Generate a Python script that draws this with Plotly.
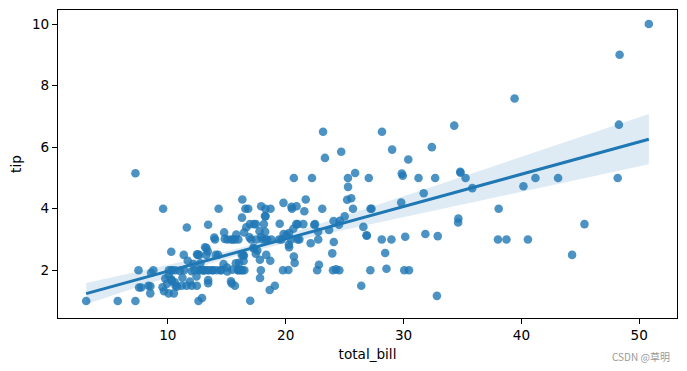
import numpy as np
import plotly.graph_objects as go

total_bill = [16.99, 10.34, 21.01, 23.68, 24.59, 25.29, 8.77, 26.88, 15.04, 14.78, 10.27, 35.26, 15.42, 18.43, 14.83, 21.58, 10.33, 16.29, 16.97, 20.65,
              17.92, 20.29, 15.77, 39.42, 19.82, 17.81, 13.37, 12.69, 21.7, 19.65, 9.55, 18.35, 15.06, 20.69, 17.78, 24.06, 16.31, 16.93, 18.69, 31.27,
              16.04, 17.46, 13.94, 9.68, 30.4, 18.29, 22.23, 32.4, 28.55, 18.04, 12.54, 10.29, 34.81, 9.94, 25.56, 19.49, 38.01, 26.41, 11.24, 48.27,
              20.29, 13.81, 11.02, 18.29, 17.59, 20.08, 16.45, 3.07, 20.23, 15.01, 12.02, 17.07, 26.86, 25.28, 14.73, 10.51, 17.92, 27.2, 22.76, 17.29,
              19.44, 16.66, 10.07, 32.68, 15.98, 34.83, 13.03, 18.28, 24.71, 21.16, 28.97, 22.49, 5.75, 16.32, 22.75, 40.17, 27.28, 12.03, 21.01, 12.46,
              11.35, 15.38, 44.3, 22.42, 20.92, 15.36, 20.49, 25.21, 18.24, 14.31, 14.0, 7.25, 38.07, 23.95, 25.71, 17.31, 29.93, 10.65, 12.43, 24.08,
              11.69, 13.42, 14.26, 15.95, 12.48, 29.8, 8.52, 14.52, 11.38, 22.82, 19.08, 20.27, 11.17, 12.26, 18.26, 8.51, 10.33, 14.15, 16.0, 13.16,
              17.47, 34.3, 41.19, 27.05, 16.43, 8.35, 18.64, 11.87, 9.78, 7.51, 14.07, 13.13, 17.26, 24.55, 19.77, 29.85, 48.17, 25.0, 13.39, 16.49,
              21.5, 12.66, 16.21, 13.81, 17.51, 24.52, 20.76, 31.71, 10.59, 10.63, 50.81, 15.81, 7.25, 31.85, 16.82, 32.9, 17.89, 14.48, 9.6, 34.63,
              34.65, 23.33, 45.35, 23.17, 40.55, 20.69, 20.9, 30.46, 18.15, 23.1, 15.69, 19.81, 28.44, 15.48, 16.58, 7.56, 10.34, 43.11, 13.0, 13.51,
              18.71, 12.74, 13.0, 16.4, 20.53, 16.47, 26.59, 38.73, 24.27, 12.76, 30.06, 25.89, 48.33, 13.27, 28.17, 12.9, 28.15, 11.59, 7.74, 30.14,
              12.16, 13.42, 8.58, 15.98, 13.42, 16.27, 10.09, 20.45, 13.28, 22.12, 24.01, 15.69, 11.61, 10.77, 15.53, 10.07, 12.6, 32.83, 35.83, 29.03,
              27.18, 22.67, 17.82, 18.78]
tip = [1.01, 1.66, 3.5, 3.31, 3.61, 4.71, 2.0, 3.12, 1.96, 3.23, 1.71, 5.0, 1.57, 3.0, 3.02, 3.92, 1.67, 3.71, 3.5, 3.35,
       4.08, 2.75, 2.23, 7.58, 3.18, 2.34, 2.0, 2.0, 4.3, 3.0, 1.45, 2.5, 3.0, 2.45, 3.27, 3.6, 2.0, 3.07, 2.31, 5.0,
       2.24, 2.54, 3.06, 1.32, 5.6, 3.0, 5.0, 6.0, 2.05, 3.0, 2.5, 2.6, 5.2, 1.56, 4.34, 3.51, 3.0, 1.5, 1.76, 6.73,
       3.21, 2.0, 1.98, 3.76, 2.64, 3.15, 2.47, 1.0, 2.01, 2.09, 1.97, 3.0, 3.14, 5.0, 2.2, 1.25, 3.08, 4.0, 3.0, 2.71,
       3.0, 3.4, 1.83, 5.0, 2.03, 5.17, 2.0, 4.0, 5.85, 3.0, 3.0, 3.5, 1.0, 4.3, 3.25, 4.73, 4.0, 1.5, 3.0, 1.5,
       2.5, 3.0, 2.5, 3.48, 4.08, 1.64, 4.06, 4.29, 3.76, 4.0, 3.0, 1.0, 4.0, 2.55, 4.0, 3.5, 5.07, 1.5, 1.8, 2.92,
       2.31, 1.68, 2.5, 2.0, 2.52, 4.2, 1.48, 2.0, 2.0, 2.18, 1.5, 2.83, 1.5, 2.0, 3.25, 1.25, 2.0, 2.0, 2.0, 2.75,
       3.5, 6.7, 5.0, 5.0, 2.3, 1.5, 1.36, 1.63, 1.73, 2.0, 2.5, 2.0, 2.74, 2.0, 2.0, 5.14, 5.0, 3.75, 2.61, 2.0,
       3.5, 2.5, 2.0, 2.0, 3.0, 3.48, 2.24, 4.5, 1.61, 2.0, 10.0, 3.16, 5.15, 3.18, 4.0, 3.11, 2.0, 2.0, 4.0, 3.55,
       3.68, 5.65, 3.5, 6.5, 3.0, 5.0, 3.5, 2.0, 3.5, 4.0, 1.5, 4.19, 2.56, 2.02, 4.0, 1.44, 2.0, 5.0, 2.0, 2.0,
       4.0, 2.01, 2.0, 2.5, 4.0, 3.23, 3.41, 3.0, 2.03, 2.23, 2.0, 5.16, 9.0, 2.5, 6.5, 1.1, 3.0, 1.5, 1.44, 3.09,
       2.2, 3.48, 1.92, 3.0, 1.58, 2.5, 2.0, 3.0, 2.72, 2.88, 2.0, 3.0, 3.39, 1.47, 3.0, 1.25, 1.0, 1.17, 4.67, 5.92,
       2.0, 2.0, 1.75, 3.0]

x_ticks = [10, 20, 30, 40, 50]
y_ticks = [2, 4, 6, 8, 10]

COLOR = "#1f77b4"
FONT = "DejaVu Sans"
FS = 13.6

# linear fit with a robust (sandwich) 95% band, which tracks seaborn's bootstrap band
x = np.array(total_bill)
y = np.array(tip)
n = len(x)
X = np.column_stack([np.ones(n), x])
XtX_inv = np.linalg.inv(X.T @ X)
beta = XtX_inv @ X.T @ y
resid = y - X @ beta
h = np.sum((X @ XtX_inv) * X, axis=1)
meat = X.T @ (X * (resid ** 2 / (1 - h) ** 2)[:, None])
V = XtX_inv @ meat @ XtX_inv
grid = np.linspace(x.min(), x.max(), 100)
G = np.column_stack([np.ones_like(grid), grid])
yhat = G @ beta
se = np.sqrt(np.sum((G @ V) * G, axis=1))
lo = yhat - 1.96 * se
hi = yhat + 1.96 * se

fig = go.Figure()
fig.add_trace(go.Scatter(x=x, y=y, mode="markers",
                         marker=dict(color=COLOR, size=8.6, opacity=0.8, line=dict(width=0)),
                         showlegend=False, hoverinfo="skip"))
fig.add_trace(go.Scatter(x=np.concatenate([grid, grid[::-1]]), y=np.concatenate([hi, lo[::-1]]),
                         fill="toself", fillcolor="rgba(31,119,180,0.15)", line=dict(width=0),
                         mode="lines", showlegend=False, hoverinfo="skip"))
fig.add_trace(go.Scatter(x=grid, y=yhat, mode="lines", line=dict(color=COLOR, width=3),
                         showlegend=False, hoverinfo="skip"))

axis_common = dict(showgrid=False, zeroline=False, showline=True, mirror=True,
                   linecolor="black", linewidth=1, ticks="outside", ticklen=5,
                   tickcolor="black", tickwidth=1, automargin=False,
                   tickfont=dict(family=FONT, size=FS, color="black"))

fig.update_xaxes(range=[0.68, 53.2], tickvals=x_ticks,
                 title=dict(text="total_bill", font=dict(family=FONT, size=FS, color="black"), standoff=7),
                 **axis_common)
fig.update_yaxes(range=[0.45, 10.455], tickvals=y_ticks,
                 title=dict(text="tip", font=dict(family=FONT, size=FS, color="black"), standoff=8),
                 **axis_common)

fig.add_annotation(text="CSDN @草明", xref="paper", yref="paper", x=0.9925, y=-0.124,
                   xanchor="right", yanchor="middle", showarrow=False,
                   font=dict(family="Noto Sans CJK SC", size=10, color="#999999"))

# the page body adds an 8px margin, so the figure is drawn 8px smaller and shifted
fig.update_layout(width=679, height=363, margin=dict(l=49.5, r=9.5, t=2.3, b=53, autoexpand=False),
                  paper_bgcolor="white", plot_bgcolor="white")

fig.write_html("out.html")
